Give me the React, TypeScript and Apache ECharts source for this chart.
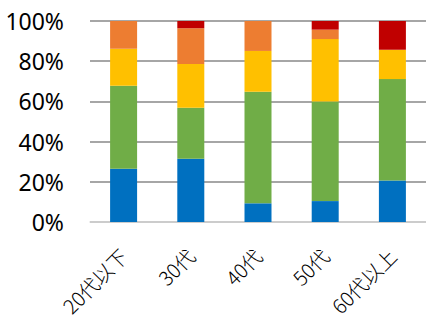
import React, { useEffect, useRef } from "react";
import * as echarts from "echarts";

const categories = ["20代以下", "30代", "40代", "50代", "60代以上"];
const seriesBlue = [26.5, 31.5, 9.3, 10.4, 20.7];
const seriesGreen = [41.3, 25.4, 55.5, 49.5, 50.4];
const seriesYellow = [18.4, 21.7, 20.3, 31.1, 14.6];
const seriesOrange = [13.8, 17.8, 14.9, 4.7, 0];
const seriesRed = [0, 3.6, 0, 4.3, 14.3];
const yTicks = [0, 20, 40, 60, 80, 100];

const colors = ["#0070C0", "#70AD47", "#FFC000", "#ED7D31", "#C00000"];
const allSeries = [seriesBlue, seriesGreen, seriesYellow, seriesOrange, seriesRed];

export default function App() {
  const ref = useRef<HTMLDivElement>(null);
  useEffect(() => {
    if (!ref.current) return;
    const chart = echarts.init(ref.current, null, { renderer: "svg" });
    chart.setOption({
      animation: false,
      grid: { left: 90, right: 0, top: 21, bottom: 103, containLabel: false },
      xAxis: {
        type: "category",
        data: categories,
        axisLine: { show: true, lineStyle: { color: "#D9D9D9", width: 1.5 } },
        axisTick: { show: false },
        axisLabel: {
          rotate: 45,
          fontSize: 20,
          color: "#000",
          margin: 30,
          fontFamily: "Noto Sans CJK JP",
          fontWeight: 300,
        },
      },
      yAxis: {
        type: "value",
        min: yTicks[0],
        max: yTicks[yTicks.length - 1],
        interval: 20,
        axisLine: { show: false },
        axisTick: { show: false },
        splitLine: { lineStyle: { color: "#898989", width: 1.5 } },
        axisLabel: {
          formatter: "{value}%",
          fontSize: 23,
          color: "#000",
          margin: 26,
          fontFamily: "Noto Sans",
        },
      },
      series: allSeries.map((d, i) => ({
        type: "bar",
        stack: "total",
        data: d,
        barWidth: 27,
        itemStyle: { color: colors[i] },
      })),
    });
    return () => chart.dispose();
  }, []);
  return <div ref={ref} style={{ width: 426, height: 325, position: "absolute", left: 0, top: 0 }} />;
}
